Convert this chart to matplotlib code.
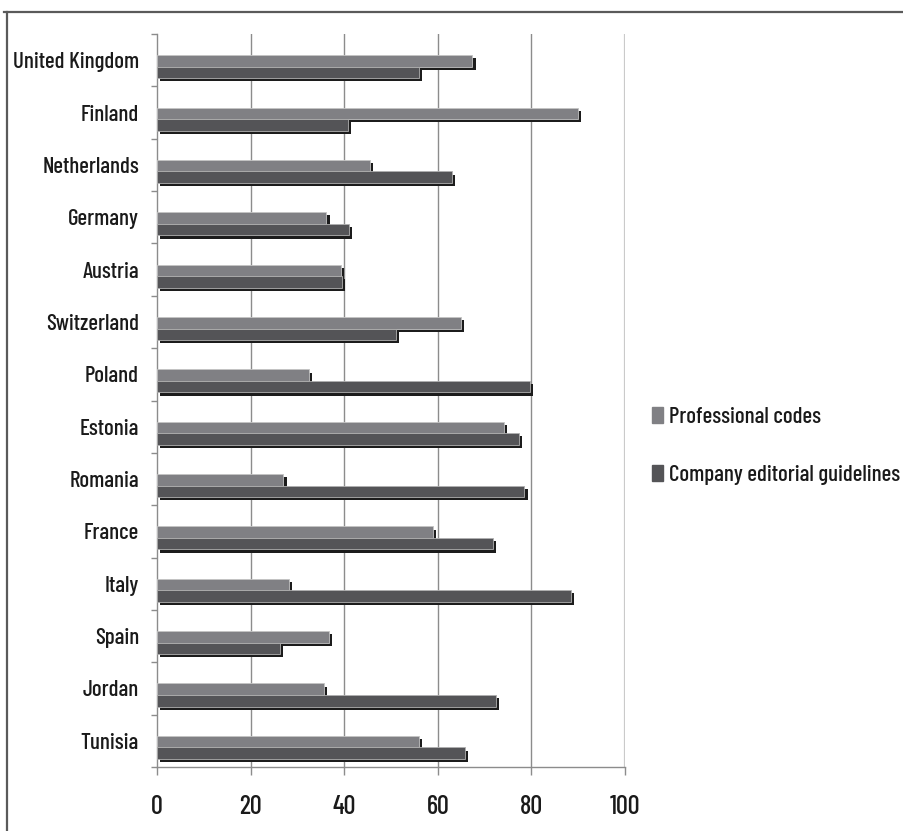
import numpy as np
import matplotlib
matplotlib.use("Agg")
import matplotlib.pyplot as plt
import matplotlib.patheffects as pe
from matplotlib.lines import Line2D

plt.rcParams['font.family'] = ['Barlow Condensed', 'Archivo Narrow', 'DejaVu Sans']
plt.rcParams['font.weight'] = 'medium'
plt.rcParams['text.color'] = '#1a1a1a'
plt.rcParams['xtick.labelcolor'] = '#1a1a1a'
plt.rcParams['ytick.labelcolor'] = '#1a1a1a'

# data (percent)
countries = ["United Kingdom", "Finland", "Netherlands", "Germany", "Austria",
             "Switzerland", "Poland", "Estonia", "Romania", "France", "Italy",
             "Spain", "Jordan", "Tunisia"]
professional = [67.4, 90.0, 45.5, 36.2, 39.3, 65.0, 32.5, 74.1, 27.0, 59.0,
                28.2, 36.7, 35.7, 56.0]
company = [56.0, 40.8, 63.0, 41.0, 39.5, 51.0, 79.6, 77.4, 78.5, 71.7,
           88.4, 26.3, 72.4, 65.8]
xticks = [0, 20, 40, 60, 80, 100]

c_prof = "#808084"
c_comp = "#545457"
c_shadow = "#1c1c1c"
c_grid = "#8c8c8c"

fig = plt.figure(figsize=(9.04, 8.31), dpi=100)
ax = fig.add_axes([157/904, 64/831, (625-157)/904, (767-34)/831])

y = np.arange(len(countries))
h = 0.22
shadow = [pe.SimplePatchShadow(offset=(2.3, -2.3), shadow_rgbFace=c_shadow, alpha=1.0),
          pe.Normal()]

b1 = ax.barh(y + 0.015, professional, height=h, color=c_prof,
             edgecolor="#c4c4c4", linewidth=0.6, zorder=3)
b2 = ax.barh(y + 0.235, company, height=h, color=c_comp,
             edgecolor="#b0b0b0", linewidth=0.6, zorder=3)
for p in list(b1) + list(b2):
    p.set_path_effects(shadow)

ax.set_xlim(0, 100)
ax.set_ylim(len(countries) - 0.5, -0.5)

# gridlines
for v in xticks[1:-1]:
    ax.axvline(v, color=c_grid, lw=1.0, zorder=1)
ax.axvline(100, color="#cacaca", lw=1.6, zorder=1)

ax.set_xticks(xticks)
ax.set_xticklabels([str(v) for v in xticks], fontsize=19)
ax.set_yticks(y)
ax.set_yticklabels(countries, fontsize=16.5)
ax.set_yticks(np.arange(len(countries) + 1) - 0.5, minor=True)

ax.tick_params(axis="y", which="major", length=0, pad=13)
ax.tick_params(axis="y", which="minor", length=4, color=c_grid, width=1)
ax.tick_params(axis="x", length=6, color=c_grid, width=1, pad=14)

for s in ["top", "right"]:
    ax.spines[s].set_visible(False)
ax.spines["left"].set_color(c_grid)
ax.spines["bottom"].set_color(c_grid)
ax.spines["left"].set_linewidth(1.0)
ax.spines["bottom"].set_linewidth(1.0)

# legend
handles = [plt.Rectangle((0, 0), 1, 1, color=c_prof),
           plt.Rectangle((0, 0), 1, 1, color=c_comp)]
fig.legend(handles, ["Professional codes", "Company editorial guidelines"],
           loc="center left", bbox_to_anchor=(652/904, 1 - 446/831),
           borderaxespad=0, borderpad=0,
           frameon=False, fontsize=16.5, handlelength=0.46, handleheight=0.7,
           handletextpad=0.28, labelspacing=1.65)

# outer frame
fig.add_artist(Line2D([4/904, 1], [1 - 11.5/831, 1 - 11.5/831],
                      transform=fig.transFigure, color="#5a5a5a", lw=1.6))
fig.add_artist(Line2D([7/904, 7/904], [0, 1 - 11.5/831],
                      transform=fig.transFigure, color="#5a5a5a", lw=1.6))

fig.savefig("out.png", dpi=100, facecolor="white")
